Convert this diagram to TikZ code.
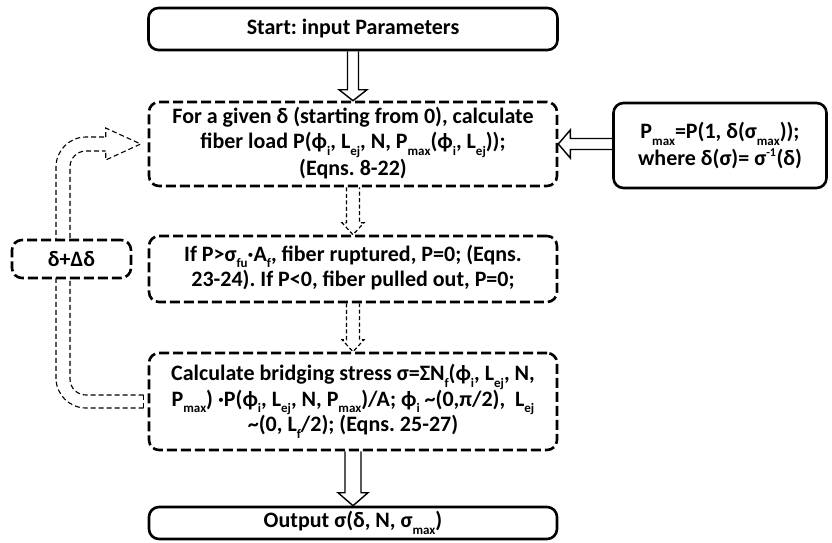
\documentclass[tikz,border=0pt]{standalone}
\usepackage{fontspec}
\setmainfont{Carlito}
\usetikzlibrary{calc,backgrounds}
\newcommand{\lo}[1]{\raisebox{-0.3em}{\fontsize{13}{13}\selectfont #1}}
\newcommand{\hi}[1]{\raisebox{0.4em}{\fontsize{12}{12}\selectfont #1}}
\begin{document}
\frenchspacing
\begin{tikzpicture}[x=1pt,y=-1pt,
  box/.style={draw, line width=2.6pt, rounded corners=10pt, fill=white, align=center,
    font=\bfseries\fontsize{22}{25.5}\selectfont, inner sep=0pt},
  dbox/.style={box, dash pattern=on 10pt off 4pt},
  hol/.style={draw, line width=1.4pt},
  dhol/.style={draw, line width=1.2pt, dash pattern=on 4pt off 2.5pt},
  loopl/.style={draw, line width=1.1pt, dash pattern=on 5pt off 3pt}]
\useasboundingbox (0,0) rectangle (832,543);

\node[box, minimum width=409pt, minimum height=42pt] (start) at (353,29) {Start: input Parameters};
\node[dbox, minimum width=408pt, minimum height=84pt] (b2) at (353,144)
  {\raisebox{-2pt}{\begin{tabular}{@{}c@{}}For a given δ (starting from 0), calculate\\ fiber load P(ϕ\lo{i}, L\lo{ej}, N, P\lo{max}(ϕ\lo{i}, L\lo{ej}));\\ (Eqns. 8-22)\end{tabular}}};
\node[dbox, minimum width=408pt, minimum height=66pt] (b3) at (353,269)
  {\raisebox{-3pt}{\begin{tabular}{@{}c@{}}If P>σ\lo{fu}·A\lo{f}, fiber ruptured, P=0; (Eqns.\\ 23-24). If P<0, fiber pulled out, P=0;\end{tabular}}};
\node[dbox, minimum width=408pt, minimum height=97pt] (b4) at (353,401.5)
  {Calculate bridging stress σ=ΣN\lo{f}(ϕ\lo{i}, L\lo{ej}, N,\\ P\lo{max}) ·P(ϕ\lo{i}, L\lo{ej}, N, P\lo{max})/A; ϕ\lo{i} \char`~(0,π/2),\ \ L\lo{ej}\\ \char`~(0, L\lo{f}/2); (Eqns. 25-27)};
\node[box, minimum width=408pt, minimum height=32pt] (out) at (353,523)
  {Output σ(δ, N, σ\lo{max})};
\node[box, minimum width=213pt, minimum height=85pt] (rb) at (720,145.5)
  {P\lo{max}=P(1, δ(σ\lo{max}));\\[1pt] where δ(σ)= σ\hi{-1}\kern0.5pt(δ)};
\node[dbox, minimum width=119pt, minimum height=38pt] (d) at (71.5,259) {δ+Δδ};

% start -> b2
\draw[hol] ($(start.south)+(-5.5,0)$) -- ($(b2.north)+(-5.5,-11)$) -- ($(b2.north)+(-14,-11)$)
  -- (b2.north) -- ($(b2.north)+(14,-11)$) -- ($(b2.north)+(5.5,-11)$) -- ($(start.south)+(5.5,0)$);
% b2 -> b3
\draw[dhol] ($(b2.south)+(-6.5,0)$) -- ($(b3.north)+(-6.5,-12)$) -- ($(b3.north)+(-11,-12)$)
  -- (b3.north) -- ($(b3.north)+(11,-12)$) -- ($(b3.north)+(6.5,-12)$) -- ($(b2.south)+(6.5,0)$);
% b3 -> b4
\draw[dhol] ($(b3.south)+(-6.5,0)$) -- ($(b4.north)+(-6.5,-12)$) -- ($(b4.north)+(-11,-12)$)
  -- (b4.north) -- ($(b4.north)+(11,-12)$) -- ($(b4.north)+(6.5,-12)$) -- ($(b3.south)+(6.5,0)$);
% b4 -> out
\draw[hol] ($(b4.south)+(-8,0)$) -- ($(out.north)+(-8,-13)$) -- ($(out.north)+(-15,-13)$)
  -- (out.north) -- ($(out.north)+(15,-13)$) -- ($(out.north)+(8,-13)$) -- ($(b4.south)+(8,0)$);
% rb -> b2
\draw[hol] ($(rb.west |- b2.east)+(0,-5.5)$) -- ($(b2.east)+(12,-5.5)$) -- ($(b2.east)+(12,-14)$)
  -- (b2.east) -- ($(b2.east)+(12,14)$) -- ($(b2.east)+(12,5.5)$) -- ($(rb.west |- b2.east)+(0,5.5)$);

% loop b4 -> d -> b2
\begin{scope}[on background layer]
\draw[loopl, rounded corners=30pt] ($(b4.west)+(-4,6.5)$) -- ($(d.center |- b4.west)+(-15.5,6.5)$)
  -- ($(d.center |- b2.west)+(-15.5,-7)$) -- ($(b2.west)+(-42,-7)$);
\draw[loopl, rounded corners=16pt] ($(b4.west)+(-4,-6.5)$) -- ($(d.center |- b4.west)+(-1.5,-6.5)$)
  -- ($(d.center |- b2.west)+(-1.5,7)$) -- ($(b2.west)+(-42,7)$);
\draw[loopl] ($(b2.west)+(-42,-7)$) -- ($(b2.west)+(-42,-16)$) -- ($(b2.west)+(-7,0)$)
  -- ($(b2.west)+(-42,16)$) -- ($(b2.west)+(-42,7)$);
\draw[loopl] ($(b4.west)+(-4,-6.5)$) -- ($(b4.west)+(-4,6.5)$);
\end{scope}
\end{tikzpicture}
\end{document}
